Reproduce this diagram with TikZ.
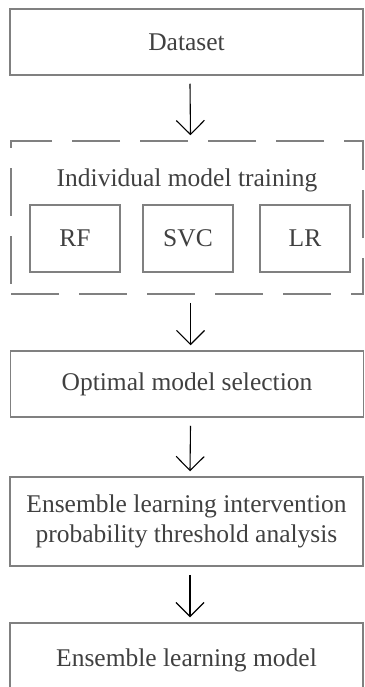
\documentclass[tikz,border=0pt]{standalone}
\usepackage{fontspec}
\setmainfont{Liberation Serif}
\usetikzlibrary{arrows.meta,positioning,calc}

\definecolor{boxline}{RGB}{128,128,128}
\definecolor{boxtext}{RGB}{64,64,64}

\tikzset{
  stage/.style={draw=boxline,line width=1.5pt,rectangle,minimum width=353pt,
    text=boxtext,align=center,inner sep=0pt},
  model/.style={draw=boxline,line width=1.5pt,rectangle,minimum width=90pt,
    minimum height=67pt,text=boxtext,inner sep=0pt},
  group/.style={draw=boxline,line width=1.5pt,dash pattern=on 48pt off 20pt,
    rectangle,minimum width=352pt,minimum height=153pt,inner sep=0pt},
  flow/.style={-{Straight Barb[length=14pt,width=28pt]},line width=1.1pt,black}
}

\begin{document}
\begin{tikzpicture}[x=1pt,y=-1pt,font=\fontsize{25.5}{30}\selectfont]
\useasboundingbox (0,0) rectangle (364,687);
\clip (0,0) rectangle (364,687);
\def\ax{3.5}
% stages
\node[stage,minimum height=66pt] (data) at (186.5,42) {Dataset};
\node[group] (train) at (187,217.5) {};
\node[text=boxtext] (traintxt) at (187,180) {Individual model training};
\foreach \n/\x/\txt in {rf/75/RF,svc/188/SVC,lr/305/LR}
{
 \node[model] (\n) at (\x,238.5) {\txt};
}
\node[stage,minimum height=66pt] (opt) at (187,384) {Optimal model selection};
\node[stage,minimum height=89pt] (thr) at (186.5,521.5) {Ensemble learning intervention\\ probability threshold analysis};
\node[stage,minimum height=74pt] (ens) at (186.5,660) {Ensemble learning model};
% arrows
\foreach \a/\b in {data/train,train/opt,opt/thr,thr/ens}
{
 \draw[flow] ([xshift=\ax pt,yshift=-8pt]\a.south) -- ([xshift=\ax pt,yshift=5pt]\b.north);
}
\end{tikzpicture}
\end{document}
